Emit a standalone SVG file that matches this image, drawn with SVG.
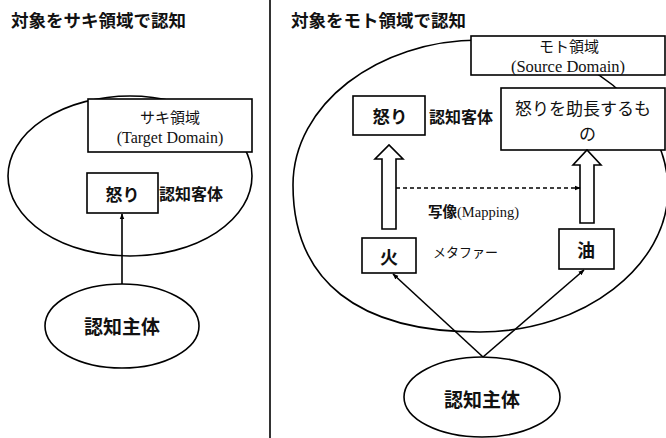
<svg xmlns="http://www.w3.org/2000/svg" width="666" height="438" viewBox="0 0 666 438">
<style>
.ln{fill:none;stroke:#000;stroke-width:1.6}
.bx{fill:#fff;stroke:#000;stroke-width:1.6}
.jp{font-family:"Noto Sans CJK JP","Noto Sans CJK SC",sans-serif;fill:#111}
.b{font-weight:bold}
.sf{font-family:"Liberation Serif","Noto Sans CJK JP",serif;fill:#111}
.mid{text-anchor:middle}
</style>
<defs>
<marker id="ah" viewBox="0 0 10 10" refX="9" refY="5" markerWidth="6" markerHeight="6" orient="auto" markerUnits="userSpaceOnUse">
<path d="M0,1 L10,5 L0,9 z" fill="#000"/>
</marker>
</defs>
<rect width="666" height="438" fill="#fff"/>
<line x1="270" y1="0" x2="270" y2="438" stroke="#000" stroke-width="1.6"/>

<text class="jp b" x="11" y="26.5" font-size="17.5">対象をサキ領域で認知</text>
<text class="jp b" x="291" y="26.5" font-size="17.5">対象をモト領域で認知</text>

<g id="left-domain">
<ellipse class="ln" cx="130" cy="176" rx="122" ry="80"/>
</g>
<g id="target-domain">
<rect class="bx" x="88" y="99" width="164" height="53"/>
<text class="jp mid" x="170" y="122.5" font-size="15">サキ領域</text>
<text class="sf mid" x="170" y="142.5" font-size="16">(Target Domain)</text>
</g>
<g id="left-anger">
<rect class="bx" x="87" y="173" width="71" height="40"/>
<text class="jp b mid" x="122.5" y="200.5" font-size="17">怒り</text>
<text class="jp b" x="159" y="199.5" font-size="16">認知客体</text>
</g>
<g id="left-subject">
<ellipse class="ln" cx="122" cy="326" rx="77" ry="42"/>
<text class="jp b mid" x="122" y="334" font-size="19">認知主体</text>
</g>

<g id="right-domain">
<path class="ln" d="M293,185 C293,105 377,40 480,40 C583,40 668,110 668,190 C668,265 585,332 480,332 C358,332 293,281 293,185 Z"/>
</g>
<g id="source-domain">
<rect class="bx" x="471" y="36" width="194" height="39"/>
<text class="jp mid" x="569" y="51.5" font-size="15">モト領域</text>
<text class="sf mid" x="568" y="72" font-size="16.5">(Source Domain)</text>
</g>
<g id="right-anger">
<rect class="bx" x="353" y="96" width="72" height="39"/>
<text class="jp b mid" x="390" y="122.5" font-size="17.5">怒り</text>
<text class="jp b" x="429" y="123" font-size="16">認知客体</text>
</g>
<g id="promoter">
<rect class="bx" x="501" y="88" width="164" height="62"/>
<text class="jp mid" x="583" y="114.5" font-size="17">怒りを助長するも</text>
<text class="jp" x="579" y="139.5" font-size="17">の</text>
</g>
<g id="fire">
<rect class="bx" x="362" y="238" width="54" height="35"/>
<text class="jp b mid" x="389" y="263.5" font-size="18">火</text>
</g>
<g id="oil">
<rect class="bx" x="559" y="229" width="55" height="40"/>
<text class="jp b mid" x="586" y="257" font-size="18">油</text>
</g>
<g id="right-subject">
<ellipse class="ln" cx="482" cy="397" rx="78" ry="40"/>
<text class="jp b mid" x="482" y="407" font-size="19">認知主体</text>
</g>
<text class="jp" x="433" y="256.5" font-size="13">メタファー</text>
<text x="428" y="217" font-size="14.5"><tspan class="jp b">写像</tspan><tspan class="sf">(Mapping)</tspan></text>

<g id="connectors">
<line class="ln" x1="122" y1="284" x2="122" y2="214" marker-end="url(#ah)"/>
<polygon class="bx" points="382,229 396,229 396,159 403,159 389,145 375,159 382,159"/>
<polygon class="bx" points="580,223 594,223 594,165 601,165 587,150 573,165 580,165"/>
<line x1="396" y1="188" x2="580" y2="188" stroke="#000" stroke-width="1.4" stroke-dasharray="4,3" marker-end="url(#ah)"/>
<line class="ln" x1="483" y1="357" x2="393" y2="274" marker-end="url(#ah)"/>
<line class="ln" x1="483" y1="357" x2="584" y2="270" marker-end="url(#ah)"/>
</g>
</svg>
